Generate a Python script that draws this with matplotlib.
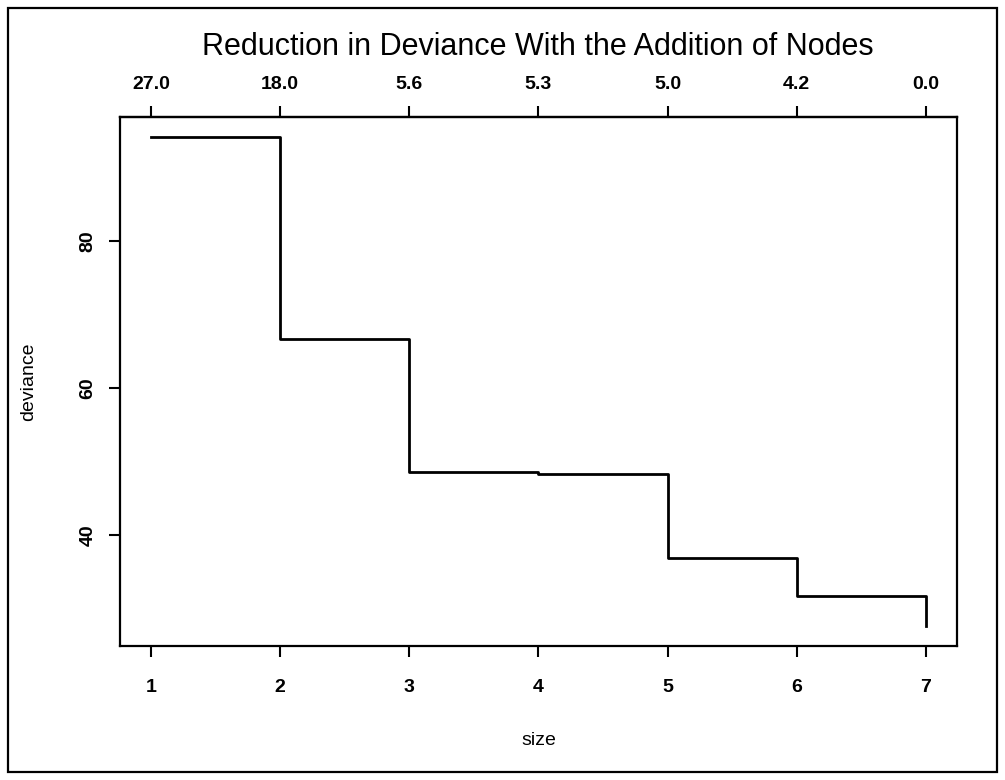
import matplotlib.pyplot as plt
from matplotlib.patches import Rectangle

plt.rcParams['font.family'] = ['Liberation Sans', 'DejaVu Sans']

# tree size vs deviance (step plot, R type="s")
sizes = [1, 2, 3, 4, 5, 6, 7]
deviance = [94.1, 66.7, 48.6, 48.4, 37.0, 31.8, 27.7]
# cost-complexity values shown on top axis
k_labels = ['27.0', '18.0', '5.6', '5.3', '5.0', '4.2', '0.0']
y_ticks = [40, 60, 80]

fig = plt.figure(figsize=(10.05, 7.8), dpi=100)
ax = fig.add_axes([0.1194, 0.1718, 0.8328, 0.6782])

ax.step(sizes, deviance, where='post', color='black', lw=2.0)

ax.set_xlim(0.76, 7.24)
ax.set_ylim(25.0, 96.8)
ax.set_xticks(sizes)
ax.set_yticks(y_ticks)
for sp in ax.spines.values():
    sp.set_linewidth(1.6)

ax.tick_params(axis='x', length=8, width=1.5, pad=16, labelsize=14)
ax.tick_params(axis='y', length=8, width=1.5, pad=9, labelsize=14, labelrotation=90)
for lab in ax.get_xticklabels() + ax.get_yticklabels():
    lab.set_fontweight('bold')
for lab in ax.get_yticklabels():
    lab.set_verticalalignment('center')

top = ax.secondary_xaxis('top')
top.set_xticks(sizes, labels=k_labels)
top.tick_params(length=8, width=1.5, pad=9, labelsize=14)
top.spines['top'].set_linewidth(1.6)
for lab in top.get_xticklabels():
    lab.set_fontweight('bold')

ax.set_xlabel('size', fontsize=14)
ax.xaxis.set_label_coords(0.5, -0.163)
ax.set_ylabel('deviance', fontsize=14)
ax.yaxis.set_label_coords(-0.099, 0.5)

fig.text(0.535, 0.929, 'Reduction in Deviance With the Addition of Nodes',
         ha='center', va='baseline', fontsize=22)

# scanned page border
fig.patches.append(Rectangle((0.008, 0.01), 0.984, 0.98, transform=fig.transFigure,
                             fill=False, edgecolor='black', lw=1.6))

fig.savefig('out.png', dpi=100)
